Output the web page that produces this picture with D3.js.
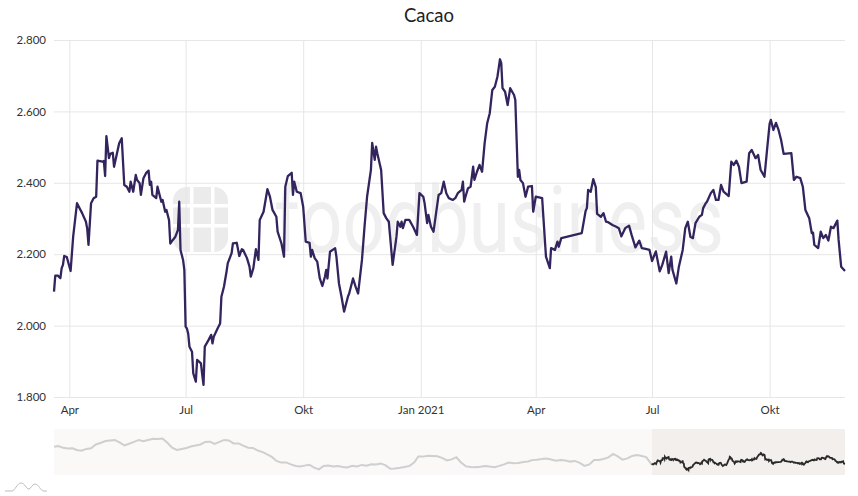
<!DOCTYPE html>
<html><head><meta charset="utf-8">
<script src="https://cdn.jsdelivr.net/npm/d3@7"></script>
<style>
html,body{margin:0;padding:0;background:#fff;}
svg{display:block;font-family:Lato,"Open Sans",sans-serif;}
</style></head>
<body>
<svg id="chart" width="858" height="496"></svg>
<script>
// ---------- DATA ----------
const chartTitle = "Cacao";
const yTicks = [1800, 2000, 2200, 2400, 2600, 2800];
const yTickLabels = ["1.800", "2.000", "2.200", "2.400", "2.600", "2.800"];
const xTickDates = ["2020-04-01", "2020-07-01", "2020-10-01", "2021-01-01", "2021-04-01", "2021-07-01", "2021-10-01"];
const xTickLabels = ["Apr", "Jul", "Okt", "Jan 2021", "Apr", "Jul", "Okt"];

const priceDates = [
"2020-03-20","2020-03-21","2020-03-23","2020-03-25","2020-03-26","2020-03-27","2020-03-28","2020-03-30","2020-04-02","2020-04-04",
"2020-04-07","2020-04-11","2020-04-14","2020-04-15","2020-04-16","2020-04-18","2020-04-20","2020-04-22","2020-04-23","2020-04-27",
"2020-04-28","2020-04-29","2020-04-30","2020-05-02","2020-05-03","2020-05-05","2020-05-06","2020-05-08","2020-05-10","2020-05-12",
"2020-05-14","2020-05-16","2020-05-18","2020-05-19","2020-05-21","2020-05-23","2020-05-24","2020-05-26","2020-05-27","2020-05-29",
"2020-05-31","2020-06-02","2020-06-03","2020-06-04","2020-06-05","2020-06-08","2020-06-09","2020-06-12","2020-06-13","2020-06-15",
"2020-06-16","2020-06-18","2020-06-19","2020-06-21","2020-06-23","2020-06-25","2020-06-26","2020-06-27","2020-06-29","2020-06-30",
"2020-07-01","2020-07-02","2020-07-03","2020-07-04","2020-07-06","2020-07-07","2020-07-09","2020-07-10","2020-07-13","2020-07-14",
"2020-07-15","2020-07-16","2020-07-19","2020-07-21","2020-07-22","2020-07-23","2020-07-26","2020-07-28","2020-07-29","2020-07-31",
"2020-08-02","2020-08-03","2020-08-04","2020-08-06","2020-08-07","2020-08-10","2020-08-12","2020-08-14","2020-08-15","2020-08-18",
"2020-08-20","2020-08-21","2020-08-23","2020-08-25","2020-08-27","2020-08-28","2020-08-31","2020-09-03","2020-09-05","2020-09-07",
"2020-09-10","2020-09-11","2020-09-14","2020-09-16","2020-09-17","2020-09-19","2020-09-22","2020-09-23","2020-09-24","2020-09-26",
"2020-09-29","2020-10-01","2020-10-03","2020-10-06","2020-10-07","2020-10-08","2020-10-10","2020-10-12","2020-10-14","2020-10-16",
"2020-10-18","2020-10-19","2020-10-20","2020-10-22","2020-10-26","2020-10-27","2020-10-29","2020-10-31","2020-11-02","2020-11-05",
"2020-11-06","2020-11-09","2020-11-11","2020-11-13","2020-11-16","2020-11-18","2020-11-20","2020-11-23","2020-11-24","2020-11-26",
"2020-11-27","2020-11-28","2020-12-01","2020-12-03","2020-12-05","2020-12-07","2020-12-10","2020-12-13","2020-12-14","2020-12-16",
"2020-12-17","2020-12-18","2020-12-20","2020-12-23","2020-12-26","2020-12-29","2020-12-31","2021-01-03","2021-01-04","2021-01-06",
"2021-01-07","2021-01-09","2021-01-11","2021-01-13","2021-01-15","2021-01-17","2021-01-19","2021-01-21","2021-01-23","2021-01-26",
"2021-01-28","2021-01-30","2021-02-02","2021-02-03","2021-02-04","2021-02-05","2021-02-07","2021-02-09","2021-02-11","2021-02-12",
"2021-02-14","2021-02-16","2021-02-18","2021-02-20","2021-02-22","2021-02-24","2021-02-26","2021-02-28","2021-03-02","2021-03-03",
"2021-03-04","2021-03-05","2021-03-06","2021-03-08","2021-03-10","2021-03-12","2021-03-15","2021-03-16","2021-03-18","2021-03-19",
"2021-03-20","2021-03-22","2021-03-24","2021-03-26","2021-03-29","2021-03-30","2021-04-01","2021-04-06","2021-04-09","2021-04-12",
"2021-04-13","2021-04-16","2021-04-18","2021-04-19","2021-04-21","2021-05-07","2021-05-10","2021-05-11","2021-05-12","2021-05-14",
"2021-05-16","2021-05-18","2021-05-19","2021-05-22","2021-05-24","2021-05-26","2021-05-28","2021-05-31","2021-06-03","2021-06-05",
"2021-06-07","2021-06-10","2021-06-13","2021-06-15","2021-06-18","2021-06-21","2021-06-23","2021-06-26","2021-06-29","2021-07-01",
"2021-07-04","2021-07-05","2021-07-07","2021-07-09","2021-07-12","2021-07-14","2021-07-16","2021-07-17","2021-07-20","2021-07-22",
"2021-07-25","2021-07-27","2021-07-29","2021-07-31","2021-08-02","2021-08-04","2021-08-07","2021-08-09","2021-08-10","2021-08-12",
"2021-08-13","2021-08-16","2021-08-18","2021-08-20","2021-08-22","2021-08-24","2021-08-26","2021-08-30","2021-09-01","2021-09-03",
"2021-09-05","2021-09-07","2021-09-09","2021-09-13","2021-09-15","2021-09-17","2021-09-20","2021-09-22","2021-09-24","2021-09-27",
"2021-09-29","2021-10-01","2021-10-02","2021-10-04","2021-10-06","2021-10-08","2021-10-10","2021-10-12","2021-10-18","2021-10-20",
"2021-10-22","2021-10-25","2021-10-27","2021-10-29","2021-11-01","2021-11-03","2021-11-04","2021-11-05","2021-11-08","2021-11-10",
"2021-11-12","2021-11-14","2021-11-16","2021-11-18","2021-11-20","2021-11-23","2021-11-24","2021-11-26","2021-11-29"
];
const priceValues = [
2095,2140,2140,2133,2161,2170,2195,2192,2153,2249,
2343,2315,2291,2271,2226,2343,2357,2361,2462,2459,
2461,2419,2531,2469,2481,2484,2445,2478,2511,2525,
2394,2389,2375,2403,2375,2422,2408,2399,2366,2413,
2427,2434,2394,2403,2366,2357,2389,2347,2352,2319,
2324,2296,2230,2240,2249,2268,2347,2212,2184,2156,
1997,1992,1978,1941,1927,1866,1843,1904,1894,1862,
1834,1941,1960,1974,1950,1969,1992,2006,2081,2109,
2151,2175,2184,2203,2230,2232,2195,2214,2212,2189,
2165,2137,2161,2214,2184,2296,2319,2382,2361,2324,
2305,2263,2230,2193,2389,2419,2428,2366,2403,2375,
2371,2333,2235,2232,2193,2212,2189,2179,2132,2111,
2137,2156,2132,2207,2217,2193,2118,2081,2039,2081,
2090,2132,2109,2090,2184,2277,2361,2436,2512,2464,
2501,2483,2436,2315,2301,2291,2170,2249,2291,2277,
2291,2273,2296,2296,2277,2254,2371,2361,2343,2287,
2310,2277,2263,2315,2366,2371,2403,2371,2357,2352,
2357,2371,2380,2403,2347,2361,2385,2389,2445,2408,
2431,2450,2431,2511,2567,2595,2660,2669,2697,2721,
2746,2735,2665,2655,2618,2665,2646,2632,2417,2436,
2408,2399,2361,2389,2391,2319,2361,2357,2193,2161,
2217,2212,2235,2221,2245,2259,2321,2329,2380,2375,
2410,2388,2313,2305,2315,2291,2289,2282,2277,2273,
2250,2273,2280,2254,2219,2238,2217,2215,2212,2181,
2208,2189,2152,2170,2207,2147,2193,2156,2118,2165,
2212,2273,2291,2249,2245,2287,2305,2310,2329,2343,
2347,2371,2380,2352,2352,2394,2375,2363,2459,2450,
2462,2445,2399,2403,2483,2492,2469,2478,2436,2417,
2492,2565,2576,2548,2568,2548,2520,2481,2483,2408,
2417,2413,2389,2324,2301,2259,2260,2226,2217,2263,
2245,2254,2238,2277,2273,2294,2240,2165,2153
];

// navigator history (before the shown range)
const historyDates = [
"2014-12-18","2015-01-01","2015-01-16","2015-02-01","2015-02-16","2015-03-01","2015-03-16","2015-04-01","2015-04-16","2015-05-01",
"2015-05-16","2015-06-01","2015-06-16","2015-07-01","2015-07-16","2015-08-01","2015-08-16","2015-09-01","2015-09-16","2015-10-01",
"2015-10-16","2015-11-01","2015-11-16","2015-12-01","2015-12-16","2016-01-01","2016-01-16","2016-02-01","2016-02-16","2016-03-01",
"2016-03-16","2016-04-01","2016-04-16","2016-05-01","2016-05-16","2016-06-01","2016-06-16","2016-07-01","2016-07-16","2016-08-01",
"2016-08-16","2016-09-01","2016-09-16","2016-10-01","2016-10-16","2016-11-01","2016-11-16","2016-12-01","2016-12-16","2017-01-01",
"2017-01-16","2017-02-01","2017-02-16","2017-03-01","2017-03-16","2017-04-01","2017-04-16","2017-05-01","2017-05-16","2017-06-01",
"2017-06-16","2017-07-01","2017-07-16","2017-08-01","2017-08-16","2017-09-01","2017-09-16","2017-10-01","2017-10-16","2017-11-01",
"2017-11-16","2017-12-01","2017-12-16","2018-01-01","2018-01-16","2018-02-01","2018-02-16","2018-03-01","2018-03-16","2018-04-01",
"2018-04-16","2018-05-01","2018-05-16","2018-06-01","2018-06-16","2018-07-01","2018-07-16","2018-08-01","2018-08-16","2018-09-01",
"2018-09-16","2018-10-01","2018-10-16","2018-11-01","2018-11-16","2018-12-01","2018-12-16","2019-01-01","2019-01-16","2019-02-01",
"2019-02-16","2019-03-01","2019-03-16","2019-04-01","2019-04-16","2019-05-01","2019-05-16","2019-06-01","2019-06-16","2019-07-01",
"2019-07-16","2019-08-01","2019-08-16","2019-09-01","2019-09-16","2019-10-01","2019-10-16","2019-11-01","2019-11-16","2019-12-01",
"2019-12-16","2020-01-01","2020-01-16","2020-02-01","2020-02-16","2020-03-01","2020-03-16"
];
const historyValues = [
3080,3120,3020,2986,2990,2906,2868,2960,3000,3200,
3281,3388,3415,3442,3308,3147,3238,3335,3442,3372,
3442,3506,3496,3522,3308,3024,2906,2960,3013,3094,
3142,3200,3335,3351,3228,3335,3442,3415,3254,3254,
3136,3029,3013,2879,2799,2665,2531,2316,2225,2236,
2129,2048,2022,2064,2113,1952,1861,2048,2075,2022,
2048,1995,1968,2059,2022,2102,2064,2140,2129,2182,
2075,1898,1914,1952,1995,2048,2236,2552,2547,2595,
2584,2568,2477,2343,2397,2515,2236,2022,1995,1979,
2006,2048,2011,1979,2048,2129,2225,2193,2209,2263,
2290,2359,2381,2413,2450,2397,2327,2359,2343,2279,
2316,2209,2048,2129,2370,2370,2424,2504,2692,2558,
2386,2450,2584,2638,2584,2520,2182
];

// ---------- CHART ----------
const parse = d3.timeParse("%Y-%m-%d");
const mainData = priceDates.map((d, i) => ({date: parse(d), value: priceValues[i]}));
const histData = historyDates.map((d, i) => ({date: parse(d), value: historyValues[i]}));

const svg = d3.select("#chart");
const W = 858, H = 496;
const plot = {left: 54, right: 845, top: 40, bottom: 397};
const nav = {top: 429, bottom: 475};

svg.append("rect").attr("width", W).attr("height", H).attr("fill", "#fff");

const x = d3.scaleTime()
  .domain([mainData[0].date, mainData[mainData.length - 1].date])
  .range([plot.left, plot.right]);
const y = d3.scaleLinear().domain([1800, 2800]).range([plot.bottom, plot.top]);

// watermark
const wm = svg.append("g").attr("class", "watermark");
const logo = wm.append("g");
logo.append("rect").attr("x", 173).attr("y", 187).attr("width", 55).attr("height", 65)
  .attr("rx", 14).attr("fill", "#ebebeb");
[190, 211].forEach(gx => logo.append("rect").attr("x", gx).attr("y", 185).attr("width", 3.5).attr("height", 70).attr("fill", "#fff"));
[204, 224].forEach(gy => logo.append("rect").attr("x", 170).attr("y", gy).attr("width", 62).attr("height", 3.5).attr("fill", "#fff"));
wm.append("text").attr("x", 274).attr("y", 252)
  .attr("font-family", "Roboto, sans-serif").attr("font-size", 92)
  .attr("textLength", 450).attr("lengthAdjust", "spacingAndGlyphs")
  .attr("fill", "#efefef").text("foodbusiness");

// y axis + horizontal gridlines
const yAxis = svg.append("g").attr("transform", `translate(${plot.left},0)`)
  .call(d3.axisLeft(y).tickValues(yTicks).tickSize(-(plot.right - plot.left)).tickPadding(8)
    .tickFormat((d, i) => yTickLabels[i]));
yAxis.select(".domain").remove();
yAxis.selectAll(".tick line").attr("stroke", "#e6e6e6");
yAxis.selectAll(".tick text").attr("fill", "#333").attr("font-size", 11.5).attr("font-family", "Lato, sans-serif");

// x axis + vertical gridlines
const xAxis = svg.append("g").attr("transform", `translate(0,${plot.bottom})`)
  .call(d3.axisBottom(x).tickValues(xTickDates.map(parse)).tickSize(-(plot.bottom - plot.top)).tickPadding(9)
    .tickFormat((d, i) => xTickLabels[i]));
xAxis.select(".domain").remove();
xAxis.selectAll(".tick line").attr("stroke", "#e6e6e6");
xAxis.selectAll(".tick text").attr("fill", "#333").attr("font-size", 11.5).attr("font-family", "Lato, sans-serif");

// main line
const line = d3.line().x(d => x(d.date)).y(d => y(d.value));
svg.append("path").datum(mainData)
  .attr("fill", "none").attr("stroke", "#33245e").attr("stroke-width", 2.3)
  .attr("stroke-linejoin", "round").attr("d", line);

// title
svg.append("text").attr("x", W / 2).attr("y", 22).attr("text-anchor", "middle")
  .attr("font-family", "Lato, sans-serif").attr("font-size", 18.5).attr("fill", "#222")
  .text(chartTitle);

// navigator
const nx = d3.scaleTime()
  .domain([histData[0].date, mainData[mainData.length - 1].date])
  .range([plot.left, plot.right]);
const ny = d3.scaleLinear().domain([1560, 4030]).range([nav.bottom, nav.top]);

svg.append("rect").attr("x", plot.left).attr("y", nav.top)
  .attr("width", plot.right - plot.left).attr("height", nav.bottom - nav.top).attr("fill", "#faf9f8");
svg.append("rect").attr("x", nx(mainData[0].date)).attr("y", nav.top)
  .attr("width", plot.right - nx(mainData[0].date)).attr("height", nav.bottom - nav.top).attr("fill", "#f2efed");

const nline = d3.line().x(d => nx(d.date)).y(d => ny(d.value));
svg.append("path").datum(histData.concat([mainData[0]]))
  .attr("fill", "none").attr("stroke", "#cfcfcf").attr("stroke-width", 2).attr("d", nline);
svg.append("path").datum(mainData)
  .attr("fill", "none").attr("stroke", "#2a2a2a").attr("stroke-width", 1.8).attr("d", nline);

// small icon bottom-left
svg.append("path")
  .attr("d", "M5,491 L12,491 C15,491 17,483 21,483 C25,483 26,489 29,489 C31,489 32,484 35,484 C39,484 40,491 44,491 L47,491")
  .attr("fill", "none").attr("stroke", "#bdbdbd").attr("stroke-width", 1);
</script>
</body></html>
